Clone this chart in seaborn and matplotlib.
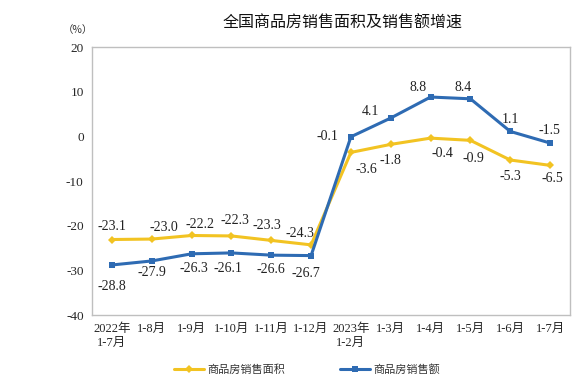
import matplotlib
matplotlib.use('Agg')
import matplotlib.pyplot as plt
import seaborn as sns
import pandas as pd

# data
months = ['2022年\n1-7月', '1-8月', '1-9月', '1-10月', '1-11月', '1-12月',
          '2023年\n1-2月', '1-3月', '1-4月', '1-5月', '1-6月', '1-7月']
area_growth = [-23.1, -23.0, -22.2, -22.3, -23.3, -24.3, -3.6, -1.8, -0.4, -0.9, -5.3, -6.5]
sales_growth = [-28.8, -27.9, -26.3, -26.1, -26.6, -26.7, -0.1, 4.1, 8.8, 8.4, 1.1, -1.5]
series_names = ['商品房销售面积', '商品房销售额']
y_ticks = [-40, -30, -20, -10, 0, 10, 20]

# label offsets in pixels (dx, dy)
area_offsets = [(0, 13), (12, 12), (8, 11), (4, 15), (-4, 15), (-11, 11),
                (15, -17), (0, -16), (12, -15), (3, -18), (0, -16), (2, -13)]
sales_offsets = [(0, -22), (0, -12), (2, -15), (-3, -16), (0, -14), (-5, -18),
                 (-23, 0), (-20, 7), (-13, 10), (-7, 11), (0, 12), (-1, 13)]

yellow = '#F2C322'
blue = '#2E6BB3'
gray = '#BFBFBF'

sns.set_style('white')
serif = ['Liberation Serif', 'Noto Sans CJK SC']
cjk = ['Noto Sans CJK SC', 'DejaVu Sans']
plt.rcParams['font.family'] = serif

df = pd.DataFrame({'x': list(range(len(months))), 'area': area_growth, 'sales': sales_growth})

fig = plt.figure(figsize=(5.77, 3.82), dpi=100)
ax = fig.add_axes([92 / 577, 1 - 315 / 382, (570 - 92) / 577, (315 - 47) / 382])

sns.lineplot(data=df, x='x', y='area', ax=ax, color=yellow, linewidth=2.2,
             marker='D', markersize=4, markeredgewidth=0, label=series_names[0])
sns.lineplot(data=df, x='x', y='sales', ax=ax, color=blue, linewidth=2.2,
             marker='s', markersize=4.5, markeredgewidth=0, label=series_names[1])

for i in range(len(months)):
    ax.annotate(f'{area_growth[i]:.1f}', (i, area_growth[i]), xytext=area_offsets[i],
                textcoords='offset pixels', ha='center', va='center', fontsize=10, color='#222222')
    ax.annotate(f'{sales_growth[i]:.1f}', (i, sales_growth[i]), xytext=sales_offsets[i],
                textcoords='offset pixels', ha='center', va='center', fontsize=10, color='#222222')

ax.set_xlim(-0.5, len(months) - 0.5)
ax.set_ylim(-40, 20)
ax.set_yticks(y_ticks)
ax.set_yticklabels([str(v) for v in y_ticks], fontsize=9.5)
ax.set_xticks(range(len(months)))
ax.set_xticklabels(months, fontsize=9, linespacing=1.15)
ax.set_xticks([i - 0.5 for i in range(len(months) + 1)], minor=True)
ax.tick_params(axis='x', which='major', length=0, pad=6)
ax.tick_params(axis='x', which='minor', length=4, direction='in', color=gray)
ax.tick_params(axis='y', length=4, direction='in', color=gray, pad=6)
ax.set_xlabel('')
ax.set_ylabel('')
ax.grid(False)
for s in ax.spines.values():
    s.set_color(gray)
    s.set_linewidth(1)

fig.text(78 / 577, 1 - 30 / 382, '（%）', fontsize=7.5, ha='center', va='center',
         family=cjk, color='#333333')
fig.text(343 / 577, 1 - 23 / 382, '全国商品房销售面积及销售额增速', fontsize=11.5,
         ha='center', va='center', family=cjk, color='#111111')

ax.get_legend().remove()
handles, labels = ax.get_legend_handles_labels()
fig.legend(handles, labels, loc='center', bbox_to_anchor=(307 / 577, 1 - 370 / 382), ncol=2,
           frameon=False, prop={'family': cjk, 'size': 8}, handlelength=2.7,
           columnspacing=5, handletextpad=0.3, labelcolor='#333333')

fig.savefig('out.png', dpi=100)
